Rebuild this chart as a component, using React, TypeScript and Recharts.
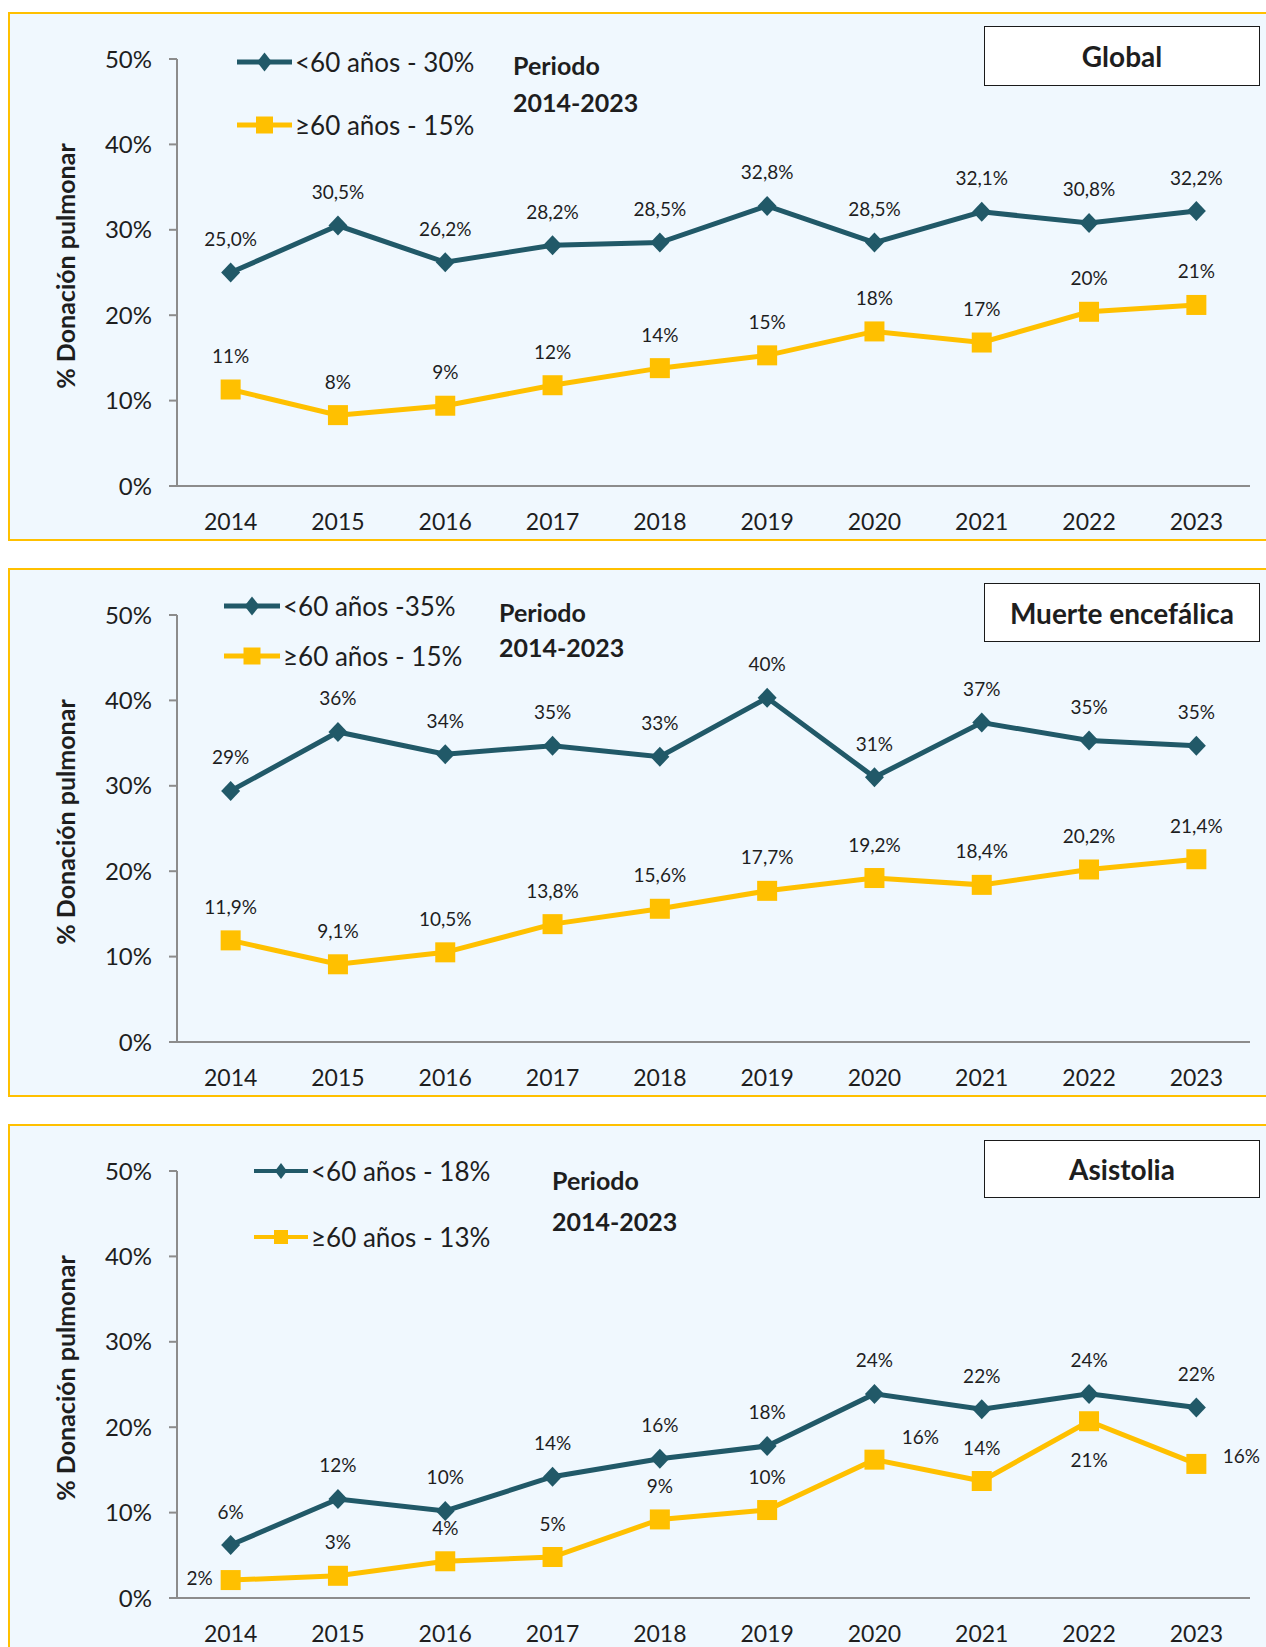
import React from "react";
import { LineChart, Line, XAxis, YAxis, LabelList } from "recharts";

// the panels run up to the window edge like in the source image
if (typeof document !== "undefined") {
  document.documentElement.style.overflow = "hidden";
  document.body.style.margin = "8px 0 0 8px";
}

// Colors picked from the Excel export
const TEAL = "#215968";
const GOLD = "#FFC000";
const PANEL_BG = "#F0F8FE";
const AXIS = "#8C8C8C";
const TEXT = "#1E1E1E";
const FONT = "Lato, 'Open Sans', sans-serif";

const YEARS = ["2014", "2015", "2016", "2017", "2018", "2019", "2020", "2021", "2022", "2023"];
const Y_TICKS = [0, 10, 20, 30, 40, 50];

const GLOBAL_UNDER60 = [25.0, 30.5, 26.2, 28.2, 28.5, 32.8, 28.5, 32.1, 30.8, 32.2];
const GLOBAL_OVER60 = [11.3, 8.3, 9.4, 11.8, 13.8, 15.3, 18.1, 16.8, 20.4, 21.2];

const ME_UNDER60 = [29.4, 36.3, 33.7, 34.7, 33.4, 40.3, 31.0, 37.4, 35.3, 34.7];
const ME_OVER60 = [11.9, 9.1, 10.5, 13.8, 15.6, 17.7, 19.2, 18.4, 20.2, 21.4];

const AS_UNDER60 = [6.2, 11.6, 10.2, 14.2, 16.3, 17.8, 23.9, 22.1, 23.9, 22.3];
const AS_OVER60 = [2.1, 2.6, 4.3, 4.8, 9.2, 10.3, 16.2, 13.7, 20.7, 15.7];

// where each data label sits relative to its point
type Place = "top" | "left" | "right" | "bottom" | "topRight";
const AS_OVER60_PLACES: Place[] = ["left", "top", "top", "top", "top", "top", "topRight", "top", "bottom", "right"];

const fmt = (v: number, dec: number) => v.toFixed(dec).replace(".", ",") + "%";

const placeOffset = (p: Place) => {
  switch (p) {
    case "left":
      return [-31, -3];
    case "right":
      return [45, -8];
    case "bottom":
      return [0, 38];
    case "topRight":
      return [46, -23];
    default:
      return [0, -34];
  }
};

const makeLabel = (dec: number, places?: Place[]) => (props: any) => {
  const { x, y, index, value } = props;
  if (x == null || y == null) return null;
  const [dx, dy] = placeOffset(places ? places[index] : "top");
  return (
    <text
      x={x + dx}
      y={y + dy}
      textAnchor="middle"
      dominantBaseline="central"
      fontSize={19}
      fontFamily={FONT}
      fill={TEXT}
    >
      {fmt(Number(value), dec)}
    </text>
  );
};

const diamondDot = (p: any) => {
  const { cx, cy, index } = p;
  if (cx == null || cy == null) return <g key={index} />;
  return (
    <polygon
      key={index}
      points={`${cx},${cy - 10} ${cx + 9.5},${cy} ${cx},${cy + 10} ${cx - 9.5},${cy}`}
      fill={TEAL}
    />
  );
};

const squareDot = (p: any) => {
  const { cx, cy, index } = p;
  if (cx == null || cy == null) return <g key={index} />;
  return <rect key={index} x={cx - 10} y={cy - 10} width={20} height={20} fill={GOLD} />;
};

interface LegendRow {
  y: number;
  text: string;
}

interface PanelProps {
  top: number;
  title: string;
  boxTop: number;
  boxHeight: number;
  under: number[];
  over: number[];
  underDec: number;
  overDec: number;
  overPlaces?: Place[];
  legendX: number;
  legendW: number;
  legendRows: [LegendRow, LegendRow];
  small?: boolean;
  periodX: number;
  periodY: [number, number];
}

function LegendIcon({ kind, small, width }: { kind: "d" | "s"; small?: boolean; width: number }) {
  const h = 22;
  const c = width / 2;
  const m = small ? 7 : 8.5;
  return (
    <svg width={width} height={h} style={{ display: "block" }}>
      <line
        x1={0}
        x2={width}
        y1={h / 2}
        y2={h / 2}
        stroke={kind === "d" ? TEAL : GOLD}
        strokeWidth={small ? 4 : 5}
      />
      {kind === "d" ? (
        <polygon
          points={`${c},${h / 2 - m - 1} ${c + m - 1},${h / 2} ${c},${h / 2 + m + 1} ${c - m + 1},${h / 2}`}
          fill={TEAL}
        />
      ) : (
        <rect x={c - m} y={h / 2 - m} width={m * 2} height={m * 2} fill={GOLD} />
      )}
    </svg>
  );
}

function Panel(props: PanelProps) {
  const data = YEARS.map((year, i) => ({
    pos: i + 0.5,
    year,
    under: props.under[i],
    over: props.over[i],
  }));

  return (
    <div
      style={{
        position: "absolute",
        left: 0,
        top: props.top,
        width: 1264,
        height: 529,
        boxSizing: "border-box",
        border: `2px solid ${GOLD}`,
        background: PANEL_BG,
        fontFamily: FONT,
        color: TEXT,
      }}
    >
      <div style={{ position: "absolute", left: 0, top: 0 }}>
        <LineChart
          width={1250}
          height={525}
          data={data}
          margin={{ top: 45, right: 10, left: 87, bottom: 0 }}
        >
          <XAxis
            xAxisId="grid"
            type="number"
            dataKey="pos"
            domain={[0, 10]}
            ticks={[0, 1, 2, 3, 4, 5, 6, 7, 8, 9, 10]}
            interval={0}
            tick={false}
            tickSize={8}
            height={8}
            stroke={AXIS}
            strokeWidth={2}
          />
          <XAxis
            xAxisId="years"
            type="number"
            dataKey="pos"
            domain={[0, 10]}
            ticks={[0.5, 1.5, 2.5, 3.5, 4.5, 5.5, 6.5, 7.5, 8.5, 9.5]}
            interval={0}
            axisLine={false}
            tickLine={false}
            tickSize={0}
            tickMargin={20}
            height={45}
            tickFormatter={(v: number) => YEARS[Math.floor(v)]}
            tick={{ fontSize: 23, fill: TEXT, fontFamily: FONT }}
          />
          <YAxis
            type="number"
            domain={[0, 50]}
            ticks={Y_TICKS}
            interval={0}
            width={80}
            tickSize={8}
            tickMargin={17}
            stroke={AXIS}
            strokeWidth={2}
            tickFormatter={(v: number) => `${v}%`}
            tick={{ fontSize: 24, fill: TEXT, fontFamily: FONT }}
          />
          <Line
            xAxisId="grid"
            dataKey="under"
            stroke={TEAL}
            strokeWidth={5}
            dot={diamondDot}
            activeDot={false}
            isAnimationActive={false}
          >
            <LabelList dataKey="under" content={makeLabel(props.underDec)} />
          </Line>
          <Line
            xAxisId="grid"
            dataKey="over"
            stroke={GOLD}
            strokeWidth={5}
            dot={squareDot}
            activeDot={false}
            isAnimationActive={false}
          >
            <LabelList dataKey="over" content={makeLabel(props.overDec, props.overPlaces)} />
          </Line>
        </LineChart>
      </div>

      {/* y axis title */}
      <div
        style={{
          position: "absolute",
          left: 55,
          top: 252,
          transform: "translate(-50%, -50%) rotate(-90deg)",
          whiteSpace: "nowrap",
          fontSize: 25,
          fontWeight: 700,
          lineHeight: 1,
        }}
      >
        % Donación pulmonar
      </div>

      {/* legend */}
      {props.legendRows.map((row, i) => (
        <div
          key={i}
          style={{
            position: "absolute",
            left: props.legendX,
            top: row.y,
            transform: "translateY(-50%)",
            display: "flex",
            alignItems: "center",
            whiteSpace: "nowrap",
          }}
        >
          <LegendIcon kind={i === 0 ? "d" : "s"} small={props.small} width={props.legendW} />
          <span style={{ fontSize: 26, lineHeight: 1, marginLeft: 3 }}>{row.text}</span>
        </div>
      ))}

      {/* period note */}
      {["Periodo", "2014-2023"].map((t, i) => (
        <div
          key={t}
          style={{
            position: "absolute",
            left: props.periodX,
            top: props.periodY[i],
            transform: "translateY(-50%)",
            fontSize: 25,
            fontWeight: 700,
            lineHeight: 1,
            whiteSpace: "nowrap",
          }}
        >
          {t}
        </div>
      ))}

      {/* title box */}
      <div
        style={{
          position: "absolute",
          left: 974,
          top: props.boxTop,
          width: 276,
          height: props.boxHeight,
          boxSizing: "border-box",
          border: "1.5px solid #1a1a1a",
          background: "#ffffff",
          display: "flex",
          alignItems: "center",
          justifyContent: "center",
          fontSize: 28,
          fontWeight: 700,
        }}
      >
        {props.title}
      </div>
    </div>
  );
}

export default function App() {
  return (
    <div style={{ position: "relative", width: 1258, height: 1639, overflow: "hidden" }}>
      <Panel
        top={4}
        title="Global"
        boxTop={12}
        boxHeight={60}
        under={GLOBAL_UNDER60}
        over={GLOBAL_OVER60}
        underDec={1}
        overDec={0}
        legendX={227}
        legendW={55}
        legendRows={[
          { y: 48, text: "<60 años - 30%" },
          { y: 111, text: "≥60 años - 15%" },
        ]}
        periodX={503}
        periodY={[51, 88]}
      />
      <Panel
        top={560}
        title="Muerte encefálica"
        boxTop={13}
        boxHeight={59}
        under={ME_UNDER60}
        over={ME_OVER60}
        underDec={0}
        overDec={1}
        legendX={214}
        legendW={56}
        legendRows={[
          { y: 36, text: "<60 años -35%" },
          { y: 86, text: "≥60 años - 15%" },
        ]}
        periodX={489}
        periodY={[42, 77]}
      />
      <Panel
        top={1116}
        title="Asistolia"
        boxTop={14}
        boxHeight={58}
        under={AS_UNDER60}
        over={AS_OVER60}
        underDec={0}
        overDec={0}
        overPlaces={AS_OVER60_PLACES}
        legendX={244}
        legendW={54}
        small
        legendRows={[
          { y: 45, text: "<60 años - 18%" },
          { y: 111, text: "≥60 años - 13%" },
        ]}
        periodX={542}
        periodY={[54, 95]}
      />
    </div>
  );
}
